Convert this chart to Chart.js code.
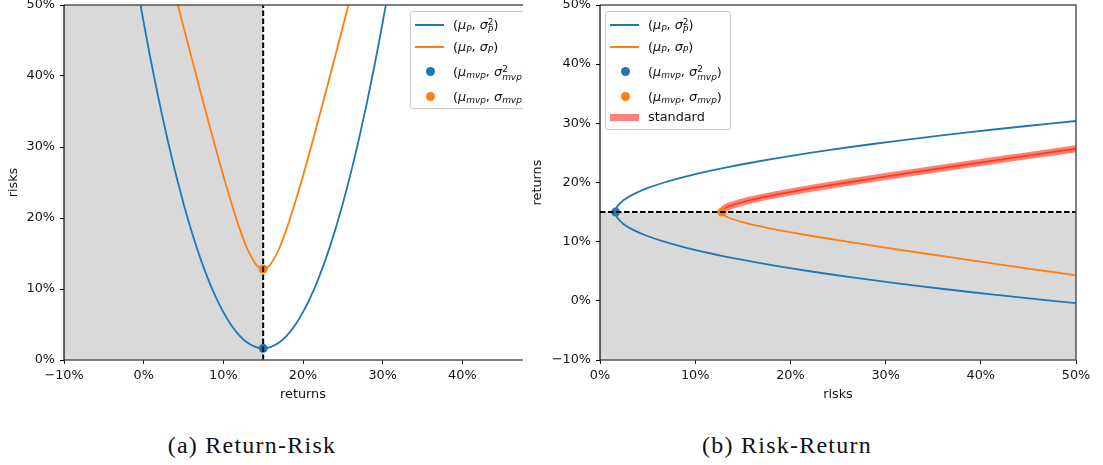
<!DOCTYPE html>
<html>
<head>
<meta charset="utf-8">
<script src="https://cdn.jsdelivr.net/npm/chart.js@4.4.1/dist/chart.umd.min.js"></script>
<style>
  html, body { margin: 0; padding: 0; background: #fff; }
  body { width: 1103px; height: 465px; position: relative; overflow: hidden; font-family: "DejaVu Sans", sans-serif; }
  #leftWrap { position: absolute; left: 0; top: 0; width: 523px; height: 402px; overflow: hidden; }
  #leftChart { position: absolute; left: 0; top: 0; }
  #rightChart { position: absolute; left: 524px; top: 0; }
  .legend { position: absolute; top: 11px; width: 126px; box-sizing: border-box; border: 1px solid #ccc; border-radius: 3px; background: rgba(255,255,255,0.8); font-size: 12.8px; color: #111; }
  .row { position: absolute; left: 0; right: 0; height: 20px; line-height: 20px; white-space: nowrap; }
  .row .txt { position: absolute; left: 42px; top: 0; }
  .mark { position: absolute; }
  .sb { font-size: 0.7em; font-style: italic; position: relative; top: 0.3em; }
  .st { display: inline-block; font-size: 0.7em; line-height: 0.9; vertical-align: -0.45em; }
  .st span { display: block; }
  .st span + span { font-style: italic; }
  .caption { position: absolute; top: 430px; width: 300px; text-align: center; font-family: "Liberation Serif", serif; font-size: 24px; line-height: 30px; letter-spacing: 1.25px; color: #111; }
</style>
</head>
<body>
<div id="leftWrap">
  <canvas id="leftChart" width="560" height="402"></canvas>
  <div class="legend" id="leftLegend" style="left:410px; height:98px;"></div>
</div>
<canvas id="rightChart" width="579" height="402"></canvas>
<div class="legend" id="rightLegend" style="left:605px; height:119px;"></div>
<div class="caption" style="left:102px;">(a) Return-Risk</div>
<div class="caption" style="left:637px;">(b) Risk-Return</div>

<script>
// portfolio returns (%) sampled along the blue curve, and the variance read at each
const blueReturns = [-1, 0, 1, 2, 3, 4, 5, 6, 7, 8, 9, 10, 11, 12, 13, 14, 14.5, 15, 15.5, 16, 17, 18, 19, 20, 21, 22, 23, 24, 25, 26, 27, 28, 29, 30, 31];
const blueVariance = [53.86, 47.54, 41.62, 36.12, 31.02, 26.32, 22.04, 18.16, 14.70, 11.64, 8.98, 6.74, 4.90, 3.48, 2.46, 1.84, 1.69, 1.64, 1.69, 1.84, 2.46, 3.48, 4.90, 6.74, 8.98, 11.64, 14.70, 18.16, 22.04, 26.32, 31.02, 36.12, 41.62, 47.54, 53.86];

// returns (%) along the orange curve, and the standard deviation read at each
const orangeReturns = [3, 4, 5, 6, 7, 8, 9, 10, 11, 12, 13, 14, 14.5, 15, 15.5, 16, 17, 18, 19, 20, 21, 22, 23, 24, 25, 26, 27];
const orangeStd = [55.69, 51.31, 46.95, 42.62, 38.34, 34.11, 29.97, 25.96, 22.15, 18.64, 15.67, 13.58, 13.00, 12.81, 13.00, 13.58, 15.67, 18.64, 22.15, 25.96, 29.97, 34.11, 38.34, 42.62, 46.95, 51.31, 55.69];

// minimum variance portfolio
const mvpReturn = 15;
const mvpVariance = 1.64;
const mvpStd = 12.81;

// tick values and labels
const leftXTicks = [-10, 0, 10, 20, 30, 40, 50];
const leftXLabels = ["\u221210%", "0%", "10%", "20%", "30%", "40%", "50%"];
const leftYTicks = [0, 10, 20, 30, 40, 50];
const leftYLabels = ["0%", "10%", "20%", "30%", "40%", "50%"];
const rightXTicks = [0, 10, 20, 30, 40, 50];
const rightXLabels = ["0%", "10%", "20%", "30%", "40%", "50%"];
const rightYTicks = [-10, 0, 10, 20, 30, 40, 50];
const rightYLabels = ["\u221210%", "0%", "10%", "20%", "30%", "40%", "50%"];

const BLUE = "#1f77b4";
const ORANGE = "#ff7f0e";
const SHADE = "#d9d9d9";
const BAND = "rgba(255,0,0,0.5)";

const tickFont = { family: "DejaVu Sans", size: 12.8 };

// draw the spines like matplotlib (above the lines)
const frame = {
    id: "frame",
    afterDatasetsDraw(chart) {
        const { ctx, chartArea: a } = chart;
        ctx.save();
        ctx.strokeStyle = "#555";
        ctx.lineWidth = 1.5;
        ctx.beginPath();
        ctx.moveTo(a.left, a.top);
        ctx.lineTo(a.right, a.top);
        ctx.lineTo(a.right, a.bottom);
        ctx.lineTo(a.left, a.bottom);
        ctx.stroke();
        ctx.strokeStyle = "#000";
        ctx.lineWidth = 1.2;
        ctx.beginPath();
        ctx.moveTo(a.left, a.top);
        ctx.lineTo(a.left, a.bottom);
        ctx.stroke();
        ctx.restore();
    }
};

function makeAxis(min, max, ticks, labels, title, fitSize, horizontal) {
    return {
        type: "linear",
        min: min,
        max: max,
        border: { display: false },
        grid: { drawOnChartArea: false, drawTicks: true, tickLength: 4, tickColor: "#000", tickWidth: 1 },
        ticks: {
            color: "#111",
            font: tickFont,
            padding: horizontal ? 4 : 5,
            autoSkip: false,
            maxRotation: 0,
            minRotation: 0,
            callback: v => labels[ticks.indexOf(v)]
        },
        title: {
            display: true,
            text: title,
            color: "#111",
            font: tickFont,
            padding: horizontal ? { top: 0, bottom: 0 } : { top: 5.5, bottom: 0 }
        },
        afterBuildTicks: s => { s.ticks = ticks.map(v => ({ value: v })); },
        afterFit: s => {
            if (horizontal) {
                s.height = fitSize;
                s.paddingLeft = 0;
                s.paddingRight = 0;
            } else {
                s.width = fitSize;
                s.paddingTop = 0;
                s.paddingBottom = 0;
            }
        }
    };
}

function lineSet(points, color, width, order) {
    return {
        data: points,
        showLine: true,
        borderColor: color,
        borderWidth: width,
        pointRadius: 0,
        tension: 0.2,
        fill: false,
        clip: 0,
        order: order
    };
}

function dotSet(point, color) {
    return {
        data: [point],
        showLine: false,
        pointRadius: 4.5,
        pointBackgroundColor: color,
        pointBorderWidth: 0,
        clip: 0,
        order: 2
    };
}

function shadeSet(points) {
    return {
        data: points,
        showLine: true,
        borderWidth: 0,
        borderColor: "rgba(0,0,0,0)",
        backgroundColor: SHADE,
        pointRadius: 0,
        fill: "start",
        clip: 0,
        order: 7
    };
}

function dashSet(points) {
    return {
        data: points,
        showLine: true,
        borderColor: "#000",
        borderWidth: 2,
        borderDash: [5.5, 2.5],
        pointRadius: 0,
        fill: false,
        clip: 0,
        order: 1
    };
}

function baseOptions(scales, padRight) {
    return {
        responsive: false,
        animation: false,
        devicePixelRatio: 1,
        events: [],
        layout: { padding: { top: 5, right: padRight, left: 0, bottom: 0 } },
        plugins: { legend: { display: false }, tooltip: { enabled: false } },
        scales: scales
    };
}

// (a) return on x, risk on y
const leftX = makeAxis(-10, 50, leftXTicks, leftXLabels, "returns", 42, true);
const leftY = makeAxis(0, 50, leftYTicks, leftYLabels, "risks", 64, false);

new Chart(document.getElementById("leftChart"), {
    type: "scatter",
    data: {
        datasets: [
            shadeSet([{ x: -10, y: 50 }, { x: mvpReturn, y: 50 }]),
            lineSet(blueReturns.map((r, i) => ({ x: r, y: blueVariance[i] })), BLUE, 1.8, 5),
            lineSet(orangeReturns.map((r, i) => ({ x: r, y: orangeStd[i] })), ORANGE, 1.8, 4),
            dotSet({ x: mvpReturn, y: mvpVariance }, BLUE),
            dotSet({ x: mvpReturn, y: mvpStd }, ORANGE),
            dashSet([{ x: mvpReturn, y: 0 }, { x: mvpReturn, y: 50 }])
        ]
    },
    options: baseOptions({ x: leftX, y: leftY }, 18),
    plugins: [frame]
});

// (b) risk on x, return on y
const rightX = makeAxis(0, 50, rightXTicks, rightXLabels, "risks", 42, true);
const rightY = makeAxis(-10, 50, rightYTicks, rightYLabels, "returns", 76, false);

const frontier = orangeReturns
    .map((r, i) => ({ x: orangeStd[i], y: r }))
    .filter(p => p.y >= mvpReturn);

new Chart(document.getElementById("rightChart"), {
    type: "scatter",
    data: {
        datasets: [
            shadeSet([{ x: 0, y: mvpReturn }, { x: 50, y: mvpReturn }]),
            lineSet(blueReturns.map((r, i) => ({ x: blueVariance[i], y: r })), BLUE, 1.8, 5),
            lineSet(orangeReturns.map((r, i) => ({ x: orangeStd[i], y: r })), ORANGE, 1.8, 4),
            lineSet(frontier, BAND, 7, 3),
            dotSet({ x: mvpVariance, y: mvpReturn }, BLUE),
            dotSet({ x: mvpStd, y: mvpReturn }, ORANGE),
            dashSet([{ x: 0, y: mvpReturn }, { x: 50, y: mvpReturn }])
        ]
    },
    options: baseOptions({ x: rightX, y: rightY }, 27),
    plugins: [frame]
});

// legends (html so the math labels stay real text)
const mu = "<i>\u03bc</i>";
const sigma = "<i>\u03c3</i>";
const legendRows = [
    { kind: "line", color: BLUE, html: "(" + mu + '<span class="sb">P</span>, ' + sigma + '<span class="st"><span>2</span><span>P</span></span>)' },
    { kind: "line", color: ORANGE, html: "(" + mu + '<span class="sb">P</span>, ' + sigma + '<span class="sb">P</span>)' },
    { kind: "dot", color: BLUE, html: "(" + mu + '<span class="sb">mvp</span>, ' + sigma + '<span class="st"><span>2</span><span>mvp</span></span>)' },
    { kind: "dot", color: ORANGE, html: "(" + mu + '<span class="sb">mvp</span>, ' + sigma + '<span class="sb">mvp</span>)' },
    { kind: "band", color: BAND, html: "standard" }
];
const rowCenters = [13, 34.7, 59.7, 84.7, 105.3];

function buildLegend(el, count) {
    legendRows.slice(0, count).forEach((row, i) => {
        const div = document.createElement("div");
        div.className = "row";
        div.style.top = (rowCenters[i] - 10) + "px";
        const mark = document.createElement("div");
        mark.className = "mark";
        if (row.kind === "line") {
            Object.assign(mark.style, { left: "4px", width: "29px", top: "9px", height: "2px", background: row.color });
        } else if (row.kind === "band") {
            Object.assign(mark.style, { left: "4px", width: "29px", top: "6.5px", height: "7px", background: row.color });
        } else {
            Object.assign(mark.style, { left: "14.5px", width: "9px", top: "5.5px", height: "9px", borderRadius: "50%", background: row.color });
        }
        const txt = document.createElement("span");
        txt.className = "txt";
        txt.innerHTML = row.html;
        div.appendChild(mark);
        div.appendChild(txt);
        el.appendChild(div);
    });
}

buildLegend(document.getElementById("leftLegend"), 4);
buildLegend(document.getElementById("rightLegend"), 5);
</script>
</body>
</html>
